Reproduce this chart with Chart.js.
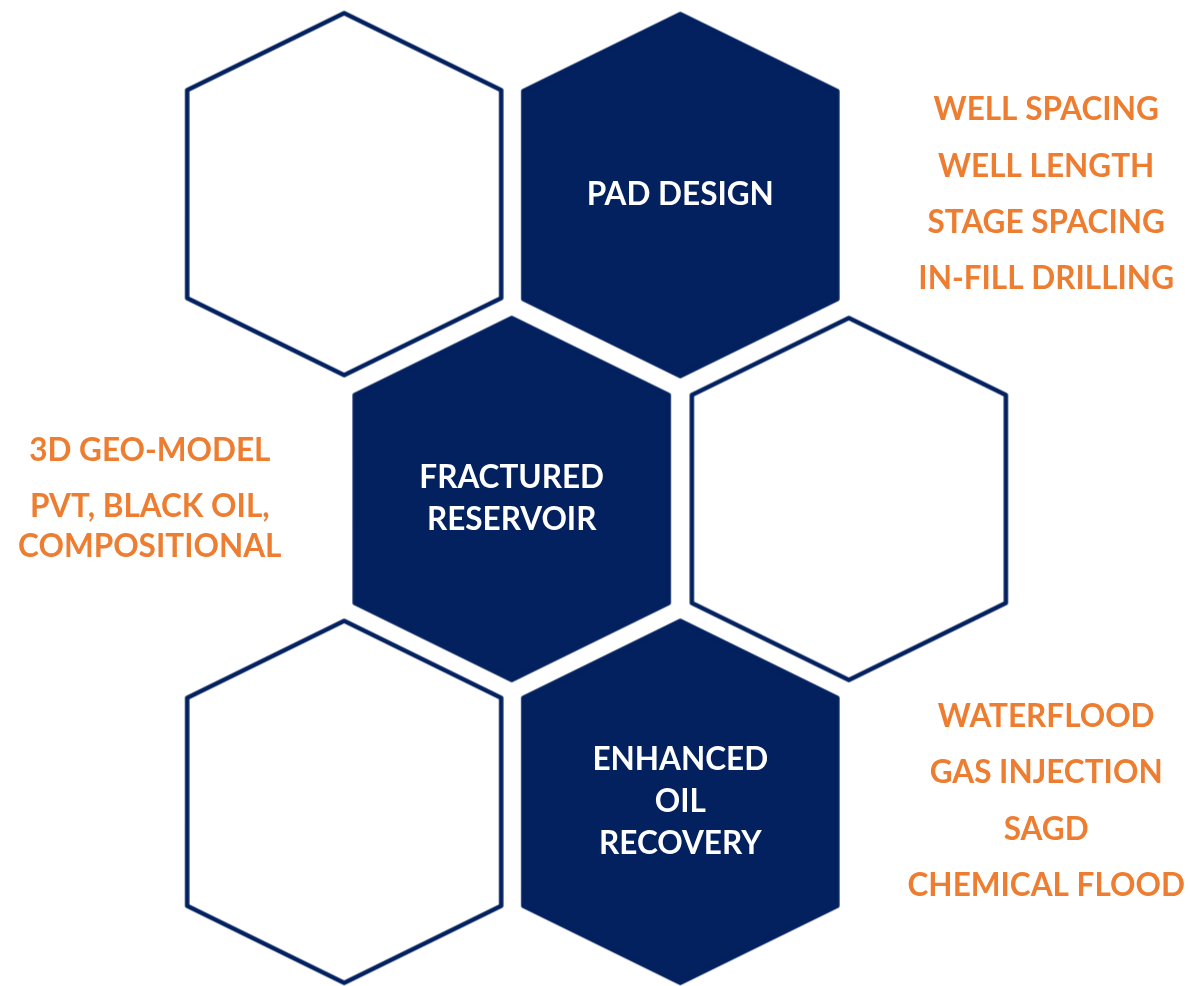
<!DOCTYPE html>
<html>
<head>
<meta charset="utf-8">
<script src="https://cdn.jsdelivr.net/npm/chart.js@4.4.1/dist/chart.umd.min.js"></script>
<style>
  html, body { margin: 0; padding: 0; background: #ffffff; }
  #wrap { width: 1190px; height: 986px; position: relative; }
</style>
</head>
<body>
<div id="wrap"><canvas id="hexChart"></canvas></div>
<script>
// hexagon centres (page units) and their captions
const filledX = [681, 511, 681];
const filledY = [192, 499, 805];
const filledLabels = [["PAD DESIGN"], ["FRACTURED", "RESERVOIR"], ["ENHANCED", "OIL", "RECOVERY"]];

const emptyX = [342, 851, 342];
const emptyY = [191, 499, 805];

// side notes
const noteX = [1050, 1050, 1050, 1050, 146, 146, 1050, 1050, 1050, 1050];
const noteY = [106, 163, 220, 277, 450, 527, 719, 776, 833, 890];
const noteLabels = [
  ["WELL SPACING"], ["WELL LENGTH"], ["STAGE SPACING"], ["IN-FILL DRILLING"],
  ["3D GEO-MODEL"], ["PVT, BLACK OIL,", "COMPOSITIONAL"],
  ["WATERFLOOD"], ["GAS INJECTION"], ["SAGD"], ["CHEMICAL FLOOD"]
];

const NAVY = "#03215f";
const ORANGE = "#ed7d31";
const FONT = "Lato, 'Open Sans', sans-serif";

// hexagon drawn as an image used for the point style
function hexImage(fill) {
  const hw = 157, hh = 181, sh = 104, lw = 4.5;
  const w = Math.ceil(2 * hw + lw * 2);
  const h = Math.ceil(2 * hh + lw * 2);
  const c = document.createElement("canvas");
  c.width = w; c.height = h;
  const g = c.getContext("2d");
  const cx = w / 2, cy = h / 2;
  g.beginPath();
  g.moveTo(cx, cy - hh);
  g.lineTo(cx + hw, cy - sh);
  g.lineTo(cx + hw, cy + sh);
  g.lineTo(cx, cy + hh);
  g.lineTo(cx - hw, cy + sh);
  g.lineTo(cx - hw, cy - sh);
  g.closePath();
  g.lineJoin = "round";
  g.lineWidth = lw;
  g.strokeStyle = NAVY;
  if (fill) { g.fillStyle = NAVY; g.fill(); }
  g.stroke();
  return c;
}

function pts(xs, ys) {
  return xs.map((x, i) => ({ x: x, y: ys[i] }));
}

const textPlugin = {
  id: "hexText",
  afterDatasetsDraw(chart) {
    const ctx = chart.ctx;
    chart.data.datasets.forEach((ds, di) => {
      if (!ds.texts) return;
      const meta = chart.getDatasetMeta(di);
      ctx.save();
      ctx.font = "bold " + ds.textSize + "px " + FONT;
      ctx.fillStyle = ds.textColor;
      ctx.textAlign = "center";
      ctx.textBaseline = "middle";
      meta.data.forEach((el, i) => {
        const lines = ds.texts[i];
        const top = el.y - (lines.length - 1) * ds.lineGap / 2;
        lines.forEach((t, k) => ctx.fillText(t, el.x, top + k * ds.lineGap));
      });
      ctx.restore();
    });
  }
};

const ctx = document.getElementById("hexChart").getContext("2d");

new Chart(ctx, {
  type: "scatter",
  data: {
    datasets: [
      {
        label: "empty",
        data: pts(emptyX, emptyY),
        pointStyle: hexImage(false),
      },
      {
        label: "filled",
        data: pts(filledX, filledY),
        pointStyle: hexImage(true),
        texts: filledLabels,
        textSize: 31.5,
        textColor: "#ffffff",
        lineGap: 42,
      },
      {
        label: "notes",
        data: pts(noteX, noteY),
        pointRadius: 0,
        texts: noteLabels,
        textSize: 31.5,
        textColor: ORANGE,
        lineGap: 40,
      },
    ],
  },
  options: {
    responsive: true,
    maintainAspectRatio: false,
    animation: false,
    events: [],
    layout: { padding: 0 },
    clip: false,
    plugins: {
      legend: { display: false },
      tooltip: { enabled: false },
    },
    scales: {
      x: { type: "linear", min: 0, max: 1190, display: false },
      y: { type: "linear", min: 0, max: 986, reverse: true, display: false },
    },
  },
  plugins: [textPlugin],
});
</script>
</body>
</html>
